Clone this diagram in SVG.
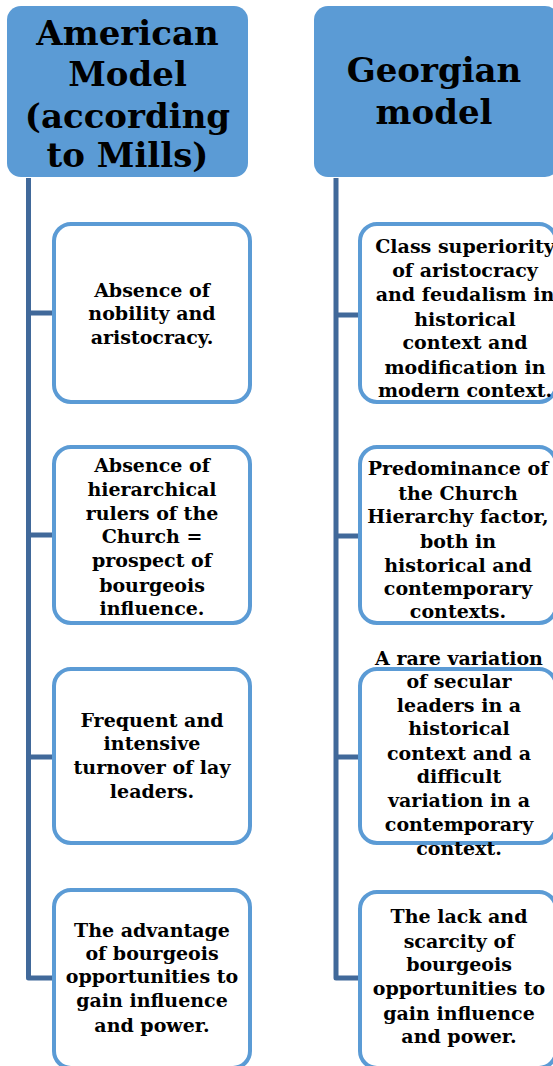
<svg xmlns="http://www.w3.org/2000/svg" width="553" height="1066" viewBox="0 0 553 1066">
<style>
.hdr{fill:#5B9BD5;}
.box{fill:#FFFFFF;stroke:#5B9BD5;stroke-width:4;}
.conn{fill:none;stroke:#41699A;stroke-width:5;stroke-linejoin:round;}
.ht{font-family:"DejaVu Serif","Liberation Serif",serif;font-weight:bold;font-size:34px;fill:#000;text-anchor:middle;}
.t{font-family:"DejaVu Serif","Liberation Serif",serif;font-weight:bold;font-size:19px;fill:#000;text-anchor:middle;}
</style>
<rect width="553" height="1066" fill="#FFFFFF"/>
<g id="connectors">
<path class="conn" d="M28.5,178 V978 H52 M28.5,313 H52 M28.5,535 H52 M28.5,757 H52"/>
<path class="conn" d="M336,178 V978 H358 M336,315 H358 M336,536 H358 M336,757 H358"/>
</g>
<g id="hdr-american">
<rect class="hdr" x="7" y="6" width="241" height="171" rx="14"/>
<text class="ht"><tspan x="127.5" y="45">American</tspan><tspan x="127.5" y="86">Model</tspan><tspan x="127.5" y="128">(according</tspan><tspan x="127.5" y="167">to Mills)</tspan></text>
</g>
<g id="hdr-georgian">
<rect class="hdr" x="314" y="6" width="245" height="171" rx="14"/>
<text class="ht"><tspan x="434" y="82">Georgian</tspan><tspan x="434" y="124">model</tspan></text>
</g>
<g id="a1">
<rect class="box" x="54" y="224" width="196" height="178" rx="17"/>
<text class="t"><tspan x="152" y="297">Absence of</tspan><tspan x="152" y="320">nobility and</tspan><tspan x="152" y="344">aristocracy.</tspan></text>
</g>
<g id="a2">
<rect class="box" x="54" y="447" width="196" height="176" rx="17"/>
<text class="t"><tspan x="152" y="472">Absence of</tspan><tspan x="152" y="496">hierarchical</tspan><tspan x="152" y="520">rulers of the</tspan><tspan x="152" y="543">Church =</tspan><tspan x="152" y="567">prospect of</tspan><tspan x="152" y="592">bourgeois</tspan><tspan x="152" y="615">influence.</tspan></text>
</g>
<g id="a3">
<rect class="box" x="54" y="669" width="196" height="174" rx="17"/>
<text class="t"><tspan x="152" y="727">Frequent and</tspan><tspan x="152" y="750">intensive</tspan><tspan x="152" y="774">turnover of lay</tspan><tspan x="152" y="798">leaders.</tspan></text>
</g>
<g id="a4">
<rect class="box" x="54" y="890" width="196" height="178" rx="17"/>
<text class="t"><tspan x="152" y="937">The advantage</tspan><tspan x="152" y="960">of bourgeois</tspan><tspan x="152" y="983">opportunities to</tspan><tspan x="152" y="1007">gain influence</tspan><tspan x="152" y="1032">and power.</tspan></text>
</g>
<g id="g1">
<rect class="box" x="360" y="224" width="196" height="178" rx="17"/>
<text class="t"><tspan x="465" y="253">Class superiority</tspan><tspan x="465" y="277">of aristocracy</tspan><tspan x="465" y="301">and feudalism in</tspan><tspan x="465" y="326">historical</tspan><tspan x="465" y="349">context and</tspan><tspan x="465" y="374">modification in</tspan><tspan x="465" y="397">modern context.</tspan></text>
</g>
<g id="g2">
<rect class="box" x="360" y="447" width="196" height="176" rx="17"/>
<text class="t"><tspan x="458" y="475">Predominance of</tspan><tspan x="458" y="500">the Church</tspan><tspan x="458" y="523">Hierarchy factor,</tspan><tspan x="458" y="548">both in</tspan><tspan x="458" y="572">historical and</tspan><tspan x="458" y="595">contemporary</tspan><tspan x="458" y="618">contexts.</tspan></text>
</g>
<g id="g3">
<rect class="box" x="360" y="669" width="196" height="174" rx="17"/>
<text class="t"><tspan x="459" y="665">A rare variation</tspan><tspan x="459" y="688">of secular</tspan><tspan x="459" y="712">leaders in a</tspan><tspan x="459" y="735">historical</tspan><tspan x="459" y="760">context and a</tspan><tspan x="459" y="783">difficult</tspan><tspan x="459" y="807">variation in a</tspan><tspan x="459" y="831">contemporary</tspan><tspan x="459" y="855">context.</tspan></text>
</g>
<g id="g4">
<rect class="box" x="360" y="892" width="196" height="176" rx="17"/>
<text class="t"><tspan x="459" y="923">The lack and</tspan><tspan x="459" y="948">scarcity of</tspan><tspan x="459" y="971">bourgeois</tspan><tspan x="459" y="995">opportunities to</tspan><tspan x="459" y="1020">gain influence</tspan><tspan x="459" y="1043">and power.</tspan></text>
</g>
</svg>
